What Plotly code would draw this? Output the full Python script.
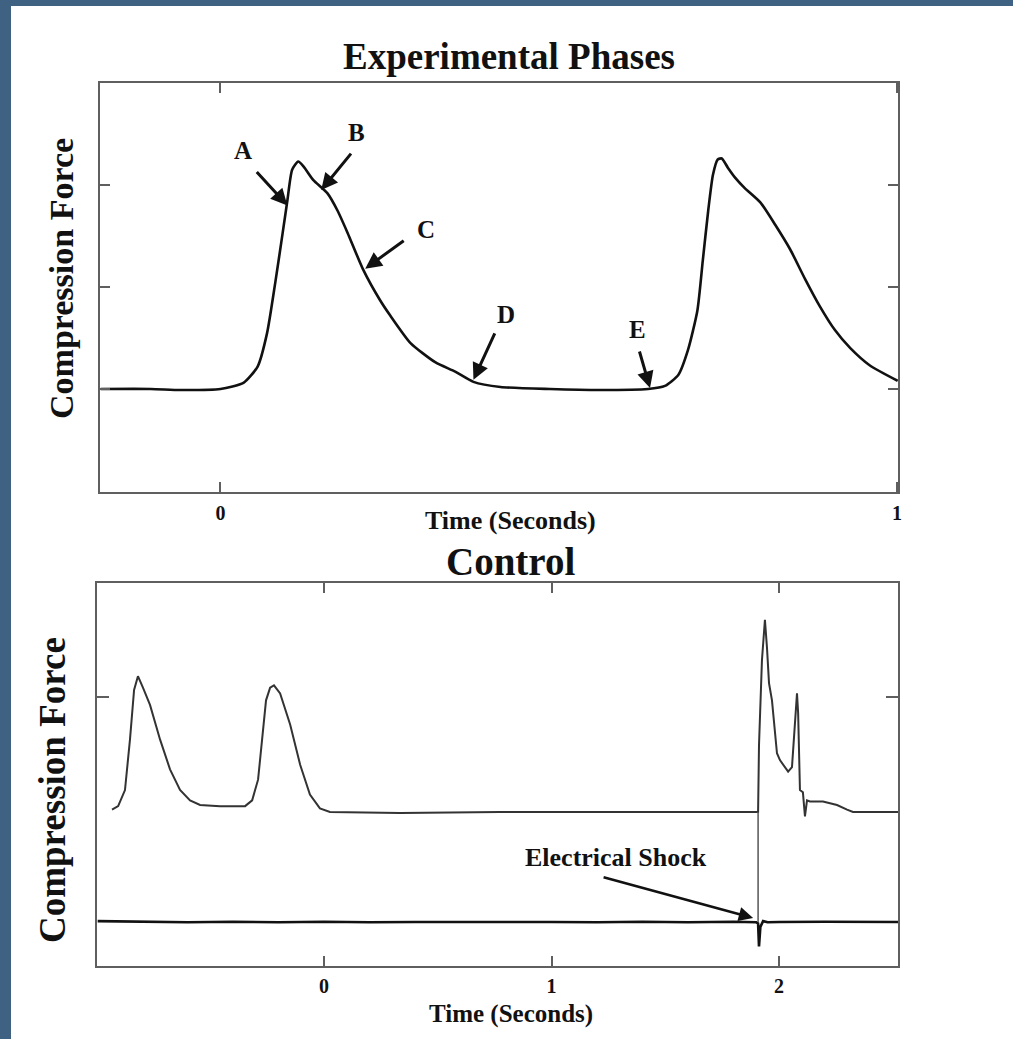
import plotly.graph_objects as go

W, H = 1013, 1039

# ---------------- data: Experimental Phases (top) ----------------
phase_t = [-0.177, -0.103, -0.059, 0.0, 0.034, 0.055, 0.069, 0.081, 0.092, 0.099, 0.106,
           0.115, 0.123, 0.137, 0.158, 0.173, 0.188, 0.211, 0.236, 0.251, 0.281, 0.318,
           0.347, 0.374, 0.414, 0.487, 0.561, 0.632, 0.657, 0.677, 0.691, 0.705, 0.713,
           0.721, 0.728, 0.735, 0.741, 0.750, 0.761, 0.775, 0.798, 0.820, 0.842, 0.864,
           0.886, 0.908, 0.931, 0.960, 1.001]
phase_f = [0, 0, -0.01, 0, 0.06, 0.22, 0.55, 1.04, 1.53, 1.85, 2.15,
           2.23, 2.18, 2.05, 1.92, 1.75, 1.53, 1.17, 0.87, 0.72, 0.45, 0.26,
           0.17, 0.07, 0.02, 0, -0.01, 0, 0.03, 0.14, 0.38, 0.77, 1.26,
           1.75, 2.10, 2.25, 2.26, 2.17, 2.07, 1.97, 1.83, 1.61, 1.37, 1.08,
           0.81, 0.58, 0.40, 0.23, 0.08]
phase_labels = ["A", "B", "C", "D", "E"]
phase_tip_t = [0.099, 0.149, 0.214, 0.374, 0.635]
phase_tip_f = [1.80, 1.95, 1.18, 0.09, 0.01]

# ---------------- data: Control (bottom) ----------------
ctrl_t = [-0.932, -0.905, -0.875, -0.853, -0.835, -0.818, -0.796, -0.765, -0.721, -0.677,
          -0.633, -0.589, -0.545, -0.457, -0.347, -0.316, -0.290, -0.273, -0.255, -0.237,
          -0.220, -0.193, -0.149, -0.105, -0.062, -0.018, 0.026, 0.334, 0.774, 1.908,
          1.912, 1.925, 1.938, 1.947, 1.956, 1.969, 1.991, 2.004, 2.040, 2.057,
          2.070, 2.079, 2.084, 2.092, 2.105, 2.114, 2.123, 2.136, 2.193, 2.255,
          2.299, 2.325, 2.523]
ctrl_f = [0.02, 0.05, 0.19, 0.63, 1.06, 1.18, 1.08, 0.93, 0.63, 0.37,
          0.19, 0.10, 0.06, 0.05, 0.05, 0.10, 0.28, 0.63, 0.97, 1.08,
          1.10, 1.03, 0.76, 0.41, 0.15, 0.03, 0.0, -0.01, 0.0, 0.0,
          0.58, 1.32, 1.67, 1.43, 1.12, 0.97, 0.51, 0.45, 0.35, 0.39,
          0.74, 1.03, 0.86, 0.19, 0.17, -0.04, 0.10, 0.09, 0.09, 0.06,
          0.02, 0.0, 0.0]
shock_t = [-0.995, -0.8, -0.6, -0.4, -0.2, 0.0, 0.2, 0.4, 0.6, 0.8, 1.0, 1.2, 1.4, 1.6,
           1.8, 1.9, 1.908, 1.912, 1.918, 1.93, 1.95, 2.0, 2.2, 2.4, 2.523]
shock_f = [-0.95, -0.955, -0.96, -0.955, -0.96, -0.955, -0.96, -0.957, -0.96, -0.958,
           -0.957, -0.96, -0.955, -0.96, -0.955, -0.96, -0.97, -1.17, -1.0, -0.95,
           -0.96, -0.957, -0.955, -0.96, -0.957]
shock_time = 1.908
shock_tip = (1.886, -0.922)

SERIF = "Liberation Serif"
AXC = "#5f5f5f"

fig = go.Figure()
fig.add_trace(go.Scatter(x=phase_t, y=phase_f, mode="lines", xaxis="x", yaxis="y",
                         line=dict(color="#111", width=2.6, shape="spline", smoothing=0.6),
                         showlegend=False, hoverinfo="skip"))
fig.add_trace(go.Scatter(x=ctrl_t, y=ctrl_f, mode="lines", xaxis="x2", yaxis="y2",
                         line=dict(color="#333", width=2), showlegend=False, hoverinfo="skip"))
fig.add_trace(go.Scatter(x=shock_t, y=shock_f, mode="lines", xaxis="x2", yaxis="y2",
                         line=dict(color="#111", width=2.6), showlegend=False, hoverinfo="skip"))


def px_x(p):
    return p / W


def px_y(p):
    return 1 - p / H


axis_common = dict(showline=True, linecolor=AXC, linewidth=2, mirror="allticks",
                   ticks="inside", tickcolor=AXC, tickwidth=2, showgrid=False,
                   zeroline=False, automargin=False, fixedrange=True)

fig.update_layout(
    width=W, height=H, template="none",
    margin=dict(l=0, r=0, t=0, b=0),
    paper_bgcolor="white", plot_bgcolor="white",
    xaxis=dict(domain=[px_x(100), px_x(898)], range=[-0.178, 1.0015], anchor="y",
               tickvals=[0, 1], ticktext=["<b>0</b>", "<b>1</b>"], ticklen=10,
               tickfont=dict(family=SERIF, size=20, color="#111"), ticklabelstandoff=2,
               **axis_common),
    yaxis=dict(domain=[px_y(492), px_y(83)], range=[-1.01, 3.0], anchor="x",
               tickvals=[0, 1, 2], showticklabels=False, ticklen=10, **axis_common),
    xaxis2=dict(domain=[px_x(97), px_x(898)], range=[-0.998, 2.523], anchor="y2",
                tickvals=[0, 1, 2], ticktext=["<b>0</b>", "<b>1</b>", "<b>2</b>"], ticklen=10,
                tickfont=dict(family=SERIF, size=20, color="#111"), ticklabelstandoff=1,
                **axis_common),
    yaxis2=dict(domain=[px_y(966), px_y(583)], range=[-1.34, 1.99], anchor="x2",
                tickvals=[1], showticklabels=False, ticklen=12, **axis_common),
)

shapes = [
    dict(type="rect", xref="paper", yref="paper", x0=0, x1=px_x(11), y0=0, y1=1,
         fillcolor="#3f6282", line=dict(width=0), layer="above"),
    dict(type="rect", xref="paper", yref="paper", x0=0, x1=1, y0=px_y(6), y1=1,
         fillcolor="#3f6282", line=dict(width=0), layer="above"),
    dict(type="line", xref="x2", yref="y2", x0=shock_time, x1=shock_time, y0=0, y1=-0.957,
         line=dict(color="#555", width=1.5)),
]
fig.update_layout(shapes=shapes)

ann = []


def text(x, y, s, size, xref="paper", yref="paper", angle=0):
    ann.append(dict(x=x, y=y, xref=xref, yref=yref, text="<b>%s</b>" % s, showarrow=False,
                    textangle=angle, font=dict(family=SERIF, size=size, color="#111"),
                    xanchor="center", yanchor="middle"))


text(px_x(509), px_y(56), "Experimental Phases", 37)
text(px_x(510), px_y(520), "Time (Seconds)", 26)
text(px_x(511), px_y(561), "Control", 39)
text(px_x(511), px_y(1014), "Time (Seconds)", 25)
text(px_x(61), px_y(279), "Compression Force", 34)
ann[-1]["textangle"] = -90
text(px_x(52), px_y(790), "Compression Force", 37)
ann[-1]["textangle"] = -90

# letters and arrows of the phases
letter_pos = [(0.034, 2.34), (0.201, 2.51), (0.304, 1.56), (0.422, 0.73), (0.616, 0.58)]
arrow_off = [(-32, -35), (31, -38), (40, -29), (22, -48), (-11, -38)]
for lab, (lx, ly), tx, ty, (ax, ay) in zip(phase_labels, letter_pos, phase_tip_t, phase_tip_f, arrow_off):
    text(lx, ly, lab, 25, xref="x", yref="y")
    ann.append(dict(x=tx, y=ty, xref="x", yref="y", text="", showarrow=True,
                    ax=ax, ay=ay, axref="pixel", ayref="pixel",
                    arrowhead=2, arrowsize=1.1, arrowwidth=3, arrowcolor="#111"))

text(1.284, -0.40, "Electrical Shock", 26, xref="x2", yref="y2")
ann.append(dict(x=shock_tip[0], y=shock_tip[1], xref="x2", yref="y2", text="", showarrow=True,
                ax=-151, ay=-41, arrowhead=2, arrowsize=1.1, arrowwidth=2.6, arrowcolor="#111"))

fig.update_layout(annotations=ann)
fig.write_html("out.html")
